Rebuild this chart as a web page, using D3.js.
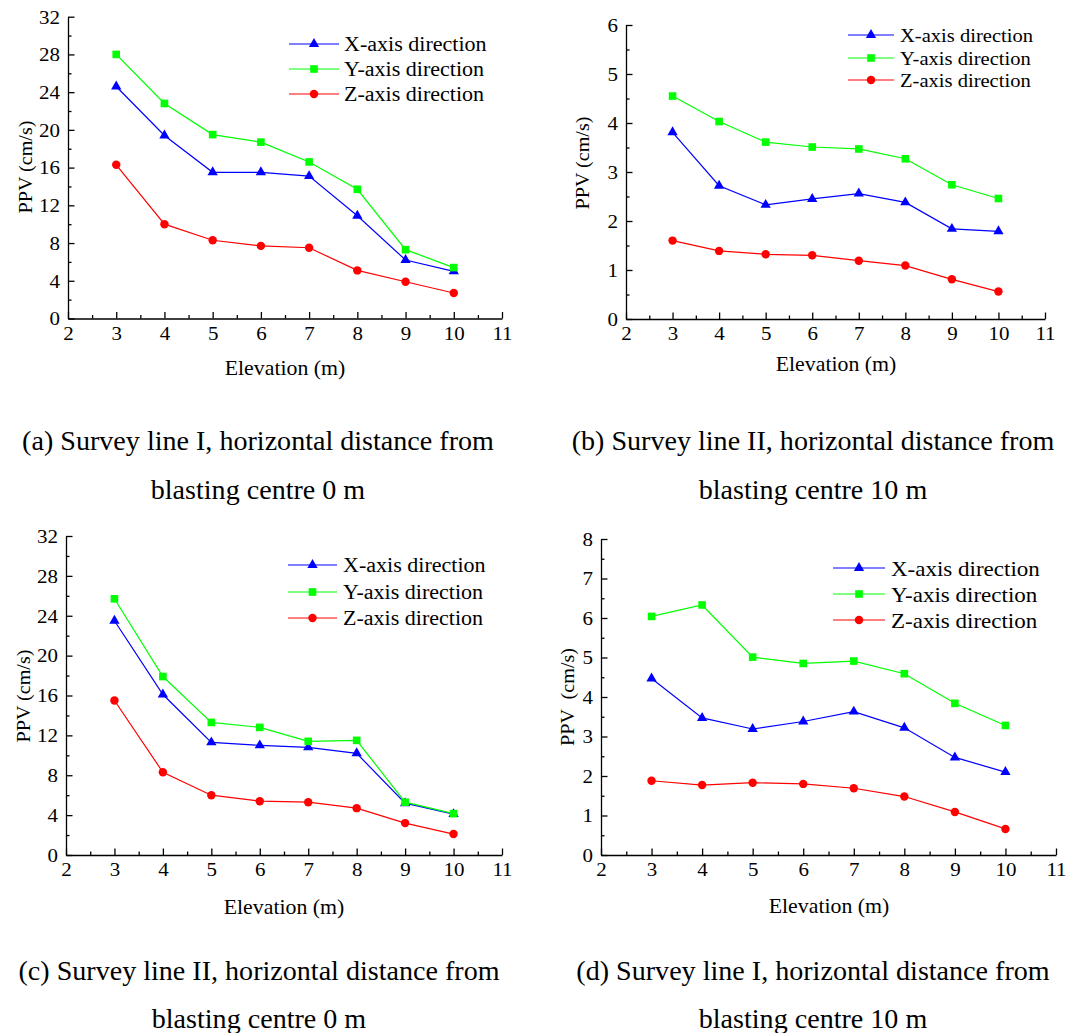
<!DOCTYPE html>
<html lang="en">
<head>
<meta charset="utf-8">
<title>PPV versus elevation</title>
<script src="https://d3js.org/d3.v7.min.js"></script>
<style>
  body { margin: 0; background: #fff; }
  svg { display: block; }
  text { font-family: "Liberation Serif", "Times New Roman", serif; fill: #000; white-space: pre; }
  .domain, .tick line { stroke: #000; stroke-width: 1.3; }
</style>
</head>
<body>
<div id="chart"></div>
<script>

// elevation of the measuring points (m)
var elevation = [3, 4, 5, 6, 7, 8, 9, 10];
var xTicks = [2, 3, 4, 5, 6, 7, 8, 9, 10, 11];
var seriesNames = ["X-axis direction", "Y-axis direction", "Z-axis direction"];

// (a) survey line I, 0 m
var aX = [24.6, 19.4, 15.5, 15.5, 15.1, 10.9, 6.2, 5.0];
var aY = [28.0, 22.8, 19.5, 18.7, 16.6, 13.7, 7.3, 5.4];
var aZ = [16.3, 10.0, 8.3, 7.7, 7.5, 5.1, 3.9, 2.7];

// (b) survey line II, 10 m
var bX = [3.81, 2.72, 2.33, 2.45, 2.56, 2.38, 1.84, 1.79];
var bY = [4.55, 4.03, 3.61, 3.51, 3.47, 3.27, 2.74, 2.46];
var bZ = [1.60, 1.39, 1.32, 1.30, 1.19, 1.09, 0.81, 0.56];

// (c) survey line II, 0 m
var cX = [23.5, 16.1, 11.3, 11.0, 10.8, 10.2, 5.2, 4.1];
var cY = [25.7, 17.9, 13.3, 12.8, 11.4, 11.5, 5.3, 4.15];
var cZ = [15.5, 8.3, 6.0, 5.4, 5.3, 4.7, 3.2, 2.1];

// (d) survey line I, 10 m
var dX = [4.47, 3.47, 3.19, 3.38, 3.63, 3.22, 2.47, 2.10];
var dY = [6.04, 6.33, 5.01, 4.85, 4.91, 4.59, 3.84, 3.28];
var dZ = [1.88, 1.77, 1.83, 1.80, 1.69, 1.48, 1.09, 0.66];

// y tick labels of each panel
var yTicks32 = [0, 4, 8, 12, 16, 20, 24, 28, 32];
var yTicks6 = [0, 1, 2, 3, 4, 5, 6];
var yTicks8 = [0, 1, 2, 3, 4, 5, 6, 7, 8];

var captions = [
  ["(a) Survey line I, horizontal distance from", "blasting centre 0 m"],
  ["(b) Survey line II, horizontal distance from", "blasting centre 10 m"],
  ["(c) Survey line II, horizontal distance from", "blasting centre 0 m"],
  ["(d) Survey line I, horizontal distance from", "blasting centre 10 m"]
];

var colours = { x: "#0000ff", y: "#00ff00", z: "#ff0000" };
var stretch = 1.06;   // the source font is a little wider than Liberation Serif

var svg = d3.select("#chart").append("svg")
  .attr("width", 1079)
  .attr("height", 1033);

// panel placement in page pixels
var panels = [
  { series: [aX, aY, aZ], yTicks: yTicks32, minor: 2, left: 68, right: 502, top: 16.7, bottom: 318.5,
    legend: { x1: 289, x2: 339, tx: 344, rows: [44, 69, 94], size: 20.8 },
    yTitle: [25, 167, "PPV (cm/s)"], xTitle: [285, 368], cap: [258, 450, 499] },
  { series: [bX, bY, bZ], yTicks: yTicks6, minor: 0.5, left: 626, right: 1045, top: 25, bottom: 319,
    legend: { x1: 848, x2: 894, tx: 900, rows: [35, 58, 80], size: 19.4 },
    yTitle: [582, 163, "PPV (cm/s)"], xTitle: [836, 364], cap: [813, 450, 499] },
  { series: [cX, cY, cZ], yTicks: yTicks32, minor: 2, left: 66, right: 502, top: 536, bottom: 855,
    legend: { x1: 288, x2: 337, tx: 343, rows: [565, 592, 618], size: 20.8 },
    yTitle: [23, 696, "PPV (cm/s)"], xTitle: [284, 907], cap: [259, 980, 1028] },
  { series: [dX, dY, dZ], yTicks: yTicks8, minor: 0.5, left: 601, right: 1056, top: 539, bottom: 855,
    legend: { x1: 833, x2: 885, tx: 891, rows: [568, 594, 620], size: 21.7 },
    yTitle: [567, 697, "PPV  (cm/s)"], xTitle: [829, 906], cap: [813, 980, 1028] }
];

function stretchText(g, x, y, str, size, anchor, rotate) {
  return g.append("text")
    .attr("transform", "translate(" + x + "," + y + ")" + (rotate ? " rotate(-90)" : "") + " scale(" + stretch + ",1)")
    .attr("text-anchor", anchor)
    .style("font-size", size + "px")
    .text(str);
}

var symbols = [d3.symbolTriangle, d3.symbolSquare, d3.symbolCircle];
var symbolSizes = [46, 58, 56];
var keys = ["x", "y", "z"];

function drawMarker(g, i, px, py) {
  g.append("path")
    .attr("transform", "translate(" + px + "," + py + ")")
    .attr("d", d3.symbol().type(symbols[i]).size(symbolSizes[i])())
    .style("fill", colours[keys[i]]);
}

panels.forEach(function(p, pi) {
  var g = svg.append("g");

  var x = d3.scaleLinear().domain([2, 11]).range([p.left, p.right]);
  var yMax = p.yTicks[p.yTicks.length - 1];
  var y = d3.scaleLinear().domain([0, yMax]).range([p.bottom, p.top]);

  // minor ticks first, then the major axis on top
  var xMinor = xTicks.slice(0, -1).map(function(v) { return v + 0.5; });
  g.append("g")
    .attr("transform", "translate(0," + p.bottom + ")")
    .call(d3.axisBottom(x).tickValues(xMinor).tickSize(-3.5).tickFormat(""))
    .select(".domain").remove();

  var yMinor = d3.range(p.minor, yMax, p.minor * 2);
  g.append("g")
    .attr("transform", "translate(" + p.left + ",0)")
    .call(d3.axisLeft(y).tickValues(yMinor).tickSize(-3.5).tickFormat(""))
    .select(".domain").remove();

  var xAxis = g.append("g")
    .attr("transform", "translate(0," + p.bottom + ")")
    .call(d3.axisBottom(x).tickValues(xTicks).tickSize(-6.5).tickSizeOuter(0)
      .tickPadding(7).tickFormat(d3.format("d")));

  var yAxis = g.append("g")
    .attr("transform", "translate(" + p.left + ",0)")
    .call(d3.axisLeft(y).tickValues(p.yTicks).tickSize(-6.5).tickSizeOuter(0)
      .tickPadding(7.5).tickFormat(d3.format("d")));

  [xAxis, yAxis].forEach(function(a) {
    a.attr("font-family", null).attr("font-size", null);
    a.selectAll("text")
      .style("font-size", "19.8px")
      .attr("transform", "scale(" + stretch + ",1)");
  });

  // lines and markers
  p.series.forEach(function(vals, si) {
    var pts = elevation.map(function(e, k) { return [e, vals[k]]; });
    g.append("path")
      .datum(pts)
      .attr("d", d3.line()
        .x(function(d) { return x(d[0]); })
        .y(function(d) { return y(d[1]); }))
      .style("fill", "none")
      .style("stroke", colours[keys[si]])
      .style("stroke-width", 1.2);
  });
  p.series.forEach(function(vals, si) {
    elevation.forEach(function(e, k) {
      drawMarker(g, si, x(e), y(vals[k]));
    });
  });

  // legend
  var L = p.legend;
  seriesNames.forEach(function(name, si) {
    var ly = L.rows[si];
    g.append("line")
      .attr("x1", L.x1).attr("x2", L.x2)
      .attr("y1", ly).attr("y2", ly)
      .style("stroke", colours[keys[si]])
      .style("stroke-width", 1.2);
    drawMarker(g, si, (L.x1 + L.x2) / 2, ly);
    stretchText(g, L.tx, ly, name, L.size, "start").attr("dy", "0.35em");
  });

  // axis titles
  stretchText(g, p.yTitle[0], p.yTitle[1], p.yTitle[2], 19, "middle", true).attr("dy", "0.35em");
  stretchText(g, p.xTitle[0], p.xTitle[1], "Elevation (m)", 20.6, "middle").attr("dy", "0.35em");

  // caption under the panel
  stretchText(g, p.cap[0], p.cap[1], captions[pi][0], 26.5, "middle");
  stretchText(g, p.cap[0], p.cap[2], captions[pi][1], 26.5, "middle");
});

</script>
</body>
</html>
